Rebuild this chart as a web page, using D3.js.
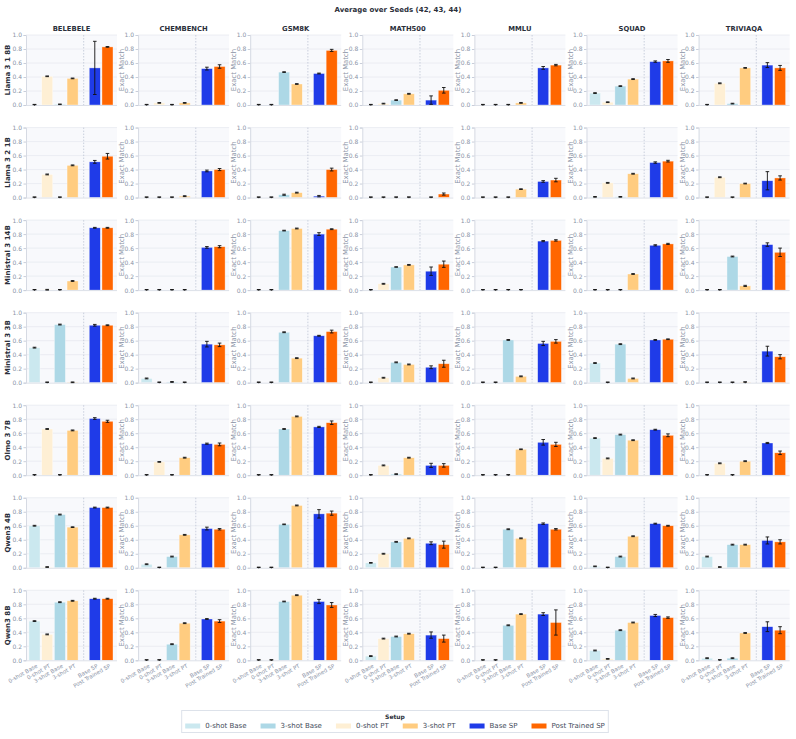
<!DOCTYPE html>
<html>
<head>
<meta charset="utf-8">
<script src="https://cdn.jsdelivr.net/npm/d3@7"></script>
<style>
  body { margin: 0; background: #fff; }
  svg { font-family: "DejaVu Sans", sans-serif; }
</style>
</head>
<body>
<svg id="chart" width="796" height="739"></svg>
<script>
// categories
var models = ['Llama 3 1 8B', 'Llama 3 2 1B', 'Ministral 3 14B', 'Ministral 3 3B', 'Olmo 3 7B', 'Qwen3 4B', 'Qwen3 8B'];
var datasets = ['BELEBELE', 'CHEMBENCH', 'GSM8K', 'MATH500', 'MMLU', 'SQUAD', 'TRIVIAQA'];
var setups = ['0-shot Base', '0-shot PT', '3-shot Base', '3-shot PT', 'Base SP', 'Post Trained SP'];
var legendOrder = ['0-shot Base', '3-shot Base', '0-shot PT', '3-shot PT', 'Base SP', 'Post Trained SP'];
var setupColors = ['#cbe8ef', '#feefd4', '#add8e6', '#ffcc80', '#1f3be8', '#ff6600'];

// mean exact match, one row per dataset, columns in setups order
var meanLlama318B = [
  [0, 0.41, 0.01, 0.38, 0.53, 0.83],
  [0, 0.03, 0, 0.03, 0.52, 0.55],
  [0, 0, 0.47, 0.30, 0.45, 0.78],
  [0, 0.02, 0.07, 0.16, 0.07, 0.21],
  [0, 0, 0, 0.03, 0.53, 0.57],
  [0.17, 0.04, 0.27, 0.37, 0.62, 0.63],
  [0, 0.31, 0.02, 0.53, 0.57, 0.53]
];
var errLlama318B = [
  [0.004, 0.005, 0.004, 0.005, 0.38, 0.005],
  [0.004, 0.005, 0.004, 0.005, 0.02, 0.025],
  [0.004, 0.004, 0.005, 0.005, 0.006, 0.015],
  [0.004, 0.005, 0.005, 0.006, 0.06, 0.04],
  [0.004, 0.004, 0.004, 0.006, 0.02, 0.01],
  [0.006, 0.005, 0.005, 0.006, 0.01, 0.02],
  [0.004, 0.006, 0.005, 0.005, 0.035, 0.035]
];
var meanLlama321B = [
  [0, 0.33, 0, 0.46, 0.51, 0.59],
  [0, 0, 0, 0.02, 0.38, 0.40],
  [0, 0, 0.04, 0.07, 0.02, 0.40],
  [0, 0, 0, 0, 0, 0.05],
  [0, 0, 0, 0.12, 0.23, 0.25],
  [0.01, 0.21, 0.01, 0.34, 0.50, 0.52],
  [0, 0.29, 0, 0.20, 0.24, 0.28]
];
var errLlama321B = [
  [0.004, 0.006, 0.004, 0.006, 0.02, 0.04],
  [0.004, 0.004, 0.004, 0.006, 0.012, 0.015],
  [0.004, 0.004, 0.008, 0.006, 0.01, 0.02],
  [0.004, 0.004, 0.005, 0.005, 0.004, 0.015],
  [0.004, 0.004, 0.004, 0.005, 0.012, 0.025],
  [0.005, 0.006, 0.005, 0.006, 0.01, 0.012],
  [0.004, 0.006, 0.004, 0.005, 0.13, 0.03]
];
var meanMinistral314B = [
  [0, 0.005, 0, 0.13, 0.89, 0.89],
  [0, 0, 0, 0, 0.61, 0.62],
  [0, 0, 0.85, 0.88, 0.80, 0.87],
  [0, 0.09, 0.33, 0.36, 0.27, 0.37],
  [0, 0, 0, 0, 0.70, 0.71],
  [0, 0, 0, 0.23, 0.64, 0.66],
  [0, 0, 0.48, 0.06, 0.65, 0.54]
];
var errMinistral314B = [
  [0.004, 0.005, 0.004, 0.006, 0.006, 0.006],
  [0.004, 0.004, 0.004, 0.004, 0.012, 0.015],
  [0.004, 0.004, 0.005, 0.006, 0.02, 0.006],
  [0.004, 0.006, 0.004, 0.006, 0.06, 0.045],
  [0.004, 0.004, 0.005, 0.005, 0.008, 0.01],
  [0.004, 0.004, 0.004, 0.006, 0.008, 0.008],
  [0.004, 0.004, 0.006, 0.008, 0.025, 0.06]
];
var meanMinistral33B = [
  [0.50, 0, 0.83, 0.005, 0.82, 0.82],
  [0.06, 0, 0.01, 0, 0.55, 0.54],
  [0, 0, 0.72, 0.35, 0.67, 0.73],
  [0, 0.07, 0.29, 0.26, 0.22, 0.27],
  [0, 0, 0.61, 0.09, 0.56, 0.59],
  [0.28, 0, 0.55, 0.06, 0.61, 0.62],
  [0, 0, 0, 0.005, 0.45, 0.37]
];
var errMinistral33B = [
  [0.006, 0.004, 0.006, 0.005, 0.012, 0.006],
  [0.006, 0.004, 0.006, 0.004, 0.04, 0.025],
  [0.004, 0.004, 0.006, 0.006, 0.006, 0.02],
  [0.004, 0.006, 0.006, 0.006, 0.02, 0.05],
  [0.004, 0.004, 0.006, 0.006, 0.03, 0.025],
  [0.006, 0.004, 0.006, 0.006, 0.006, 0.005],
  [0.004, 0.004, 0.004, 0.006, 0.07, 0.03]
];
var meanOlmo37B = [
  [0, 0.66, 0, 0.64, 0.81, 0.77],
  [0, 0.19, 0, 0.25, 0.45, 0.44],
  [0, 0, 0.66, 0.84, 0.69, 0.75],
  [0, 0.14, 0.015, 0.25, 0.14, 0.14],
  [0, 0, 0, 0.37, 0.47, 0.44],
  [0.53, 0.24, 0.58, 0.50, 0.65, 0.57],
  [0, 0.17, 0, 0.20, 0.46, 0.32]
];
var errOlmo37B = [
  [0.004, 0.006, 0.004, 0.006, 0.012, 0.015],
  [0.004, 0.005, 0.004, 0.006, 0.008, 0.02],
  [0.004, 0.004, 0.006, 0.006, 0.008, 0.025],
  [0.004, 0.006, 0.006, 0.006, 0.03, 0.025],
  [0.004, 0.004, 0.004, 0.005, 0.04, 0.03],
  [0.006, 0.006, 0.006, 0.006, 0.006, 0.02],
  [0.004, 0.006, 0.004, 0.006, 0.008, 0.025]
];
var meanQwen34B = [
  [0.60, 0.01, 0.76, 0.58, 0.86, 0.86],
  [0.05, 0, 0.16, 0.47, 0.56, 0.55],
  [0, 0, 0.62, 0.89, 0.77, 0.78],
  [0.07, 0.20, 0.37, 0.42, 0.35, 0.33],
  [0, 0, 0.55, 0.42, 0.63, 0.55],
  [0.02, 0, 0.16, 0.45, 0.63, 0.60],
  [0.16, 0.01, 0.33, 0.33, 0.39, 0.37]
];
var errQwen34B = [
  [0.006, 0.005, 0.006, 0.005, 0.006, 0.006],
  [0.006, 0.004, 0.006, 0.006, 0.02, 0.01],
  [0.004, 0.004, 0.005, 0.006, 0.06, 0.03],
  [0.005, 0.006, 0.006, 0.006, 0.02, 0.05],
  [0.004, 0.004, 0.006, 0.006, 0.01, 0.01],
  [0.005, 0.004, 0.006, 0.006, 0.006, 0.006],
  [0.006, 0.005, 0.006, 0.006, 0.05, 0.03]
];
var meanQwen38B = [
  [0.56, 0.37, 0.83, 0.85, 0.88, 0.88],
  [0, 0, 0.23, 0.53, 0.59, 0.56],
  [0, 0, 0.84, 0.93, 0.84, 0.79],
  [0.06, 0.31, 0.34, 0.38, 0.36, 0.31],
  [0, 0, 0.50, 0.66, 0.66, 0.54],
  [0.14, 0.02, 0.43, 0.54, 0.64, 0.61],
  [0.03, 0, 0.03, 0.39, 0.48, 0.43]
];
var errQwen38B = [
  [0.006, 0.006, 0.006, 0.006, 0.006, 0.006],
  [0.004, 0.005, 0.006, 0.006, 0.006, 0.02],
  [0.004, 0.004, 0.005, 0.006, 0.03, 0.035],
  [0.006, 0.006, 0.006, 0.006, 0.045, 0.05],
  [0.004, 0.004, 0.006, 0.006, 0.02, 0.18],
  [0.006, 0.005, 0.006, 0.006, 0.015, 0.01],
  [0.006, 0.005, 0.006, 0.006, 0.07, 0.05]
];
var yTicks = [0, 0.2, 0.4, 0.6, 0.8, 1.0];

var means = [meanLlama318B, meanLlama321B, meanMinistral314B, meanMinistral33B, meanOlmo37B, meanQwen34B, meanQwen38B];
var errs = [errLlama318B, errLlama321B, errMinistral314B, errMinistral33B, errOlmo37B, errQwen34B, errQwen38B];

var svg = d3.select('#chart');
var colX0 = 26, colStep = 112.1, plotW = 91;
var rowY0 = 35, rowStep = 92.55, plotH = 70;
var tickColor = '#8a93a6', darkText = '#2b2f3a';

// slot index per setup: a narrow gap sits between the few-shot and SP groups
function slot(i) { return i < 4 ? i : i + 0.75; }
var x = d3.scaleLinear().domain([-0.67, 6.5]).range([0, plotW]);
var y = d3.scaleLinear().domain([0, 1]).range([plotH, 0]);
var barW = x(0.87) - x(0);

svg.append('text')
  .attr('x', 398).attr('y', 12)
  .attr('text-anchor', 'middle')
  .style('font-size', '7px').style('font-weight', 'bold')
  .style('fill', darkText)
  .text('Average over Seeds (42, 43, 44)');

models.forEach(function(model, r) {
  datasets.forEach(function(ds, c) {
    var g = svg.append('g')
      .attr('transform', 'translate(' + (colX0 + c * colStep) + ',' + (rowY0 + r * rowStep) + ')');

    g.append('rect')
      .attr('width', plotW).attr('height', plotH)
      .style('fill', '#f8f9fc');

    g.selectAll('line.grid')
      .data(yTicks.slice(1))
      .enter().append('line')
      .attr('class', 'grid')
      .attr('x1', 0).attr('x2', plotW)
      .attr('y1', d => y(d)).attr('y2', d => y(d))
      .style('stroke', '#e7eaf0').style('stroke-width', 0.8);

    // divider between groups
    g.append('line')
      .attr('x1', x(3.875)).attr('x2', x(3.875))
      .attr('y1', 0).attr('y2', plotH)
      .style('stroke', '#c4cbd9').style('stroke-width', 0.9)
      .style('stroke-dasharray', '1.5,1.5');

    var vals = means[r][c].map(function(v, i) {
      return { i: i, v: v, e: errs[r][c][i] };
    });

    g.selectAll('rect.bar')
      .data(vals)
      .enter().append('rect')
      .attr('class', 'bar')
      .attr('x', d => x(slot(d.i)) - barW / 2)
      .attr('width', barW)
      .attr('y', d => y(d.v))
      .attr('height', d => Math.max(0, y(0) - y(d.v)))
      .style('fill', d => setupColors[d.i])
      .style('stroke', '#ffffff').style('stroke-opacity', 0.6).style('stroke-width', 0.6);

    // bottom axis line
    g.append('line')
      .attr('x1', 0).attr('x2', plotW)
      .attr('y1', plotH + 0.5).attr('y2', plotH + 0.5)
      .style('stroke', '#dce0e8').style('stroke-width', 1);

    var eb = g.selectAll('g.err')
      .data(vals)
      .enter().append('g')
      .attr('class', 'err');
    eb.append('line')
      .attr('x1', d => x(slot(d.i))).attr('x2', d => x(slot(d.i)))
      .attr('y1', d => y(d.v + d.e)).attr('y2', d => y(Math.max(0, d.v - d.e)) + (d.v - d.e < 0 ? 0.6 : 0))
      .style('stroke', '#111').style('stroke-width', 0.9);
    [1, -1].forEach(function(s) {
      eb.append('line')
        .attr('x1', d => x(slot(d.i)) - 1.8).attr('x2', d => x(slot(d.i)) + 1.8)
        .attr('y1', d => y(Math.max(0, d.v + s * d.e)) - (s < 0 && d.v - d.e < 0 ? 0.6 : 0))
        .attr('y2', d => y(Math.max(0, d.v + s * d.e)) - (s < 0 && d.v - d.e < 0 ? 0.6 : 0))
        .style('stroke', '#111').style('stroke-width', 0.9);
    });

    var yAxis = g.append('g')
      .call(d3.axisLeft(y).tickValues(yTicks).tickFormat(d3.format('.1f')).tickSize(2.5).tickPadding(1.5));
    yAxis.select('.domain').style('stroke', '#d6dae3');
    yAxis.selectAll('.tick line').style('stroke', '#c9ceda');
    yAxis.selectAll('text').style('fill', tickColor).style('font-size', '6px')
      .style('font-family', '"DejaVu Sans", sans-serif');

    if (r === 0) {
      g.append('text')
        .attr('x', plotW / 2).attr('y', -4)
        .attr('text-anchor', 'middle')
        .style('font-size', '6.8px').style('font-weight', 'bold')
        .style('fill', darkText)
        .text(ds);
    }

    if (c === 0) {
      g.append('text')
        .attr('transform', 'translate(' + (-16.5) + ',' + (plotH / 2) + ') rotate(-90)')
        .attr('text-anchor', 'middle')
        .style('font-size', '7px').style('font-weight', 'bold')
        .style('fill', darkText)
        .text(model);
    } else {
      g.append('text')
        .attr('transform', 'translate(' + (-14) + ',' + (plotH / 2) + ') rotate(-90)')
        .attr('text-anchor', 'middle')
        .style('font-size', '6.9px')
        .style('fill', tickColor)
        .text('Exact Match');
    }

    if (r === models.length - 1) {
      g.selectAll('text.xt')
        .data(setups)
        .enter().append('text')
        .attr('class', 'xt')
        .attr('transform', (d, i) => 'translate(' + (x(slot(i)) + 2.5) + ',' + (plotH + 5) + ') rotate(-30)')
        .attr('text-anchor', 'end')
        .attr('dy', '0.35em')
        .style('font-size', '5.5px')
        .style('fill', tickColor)
        .text(d => d);
    }
  });
});

// legend
var legend = svg.append('g');
var lgBox = legend.append('rect')
  .style('fill', '#fff').style('stroke', '#dde2ea').style('stroke-width', 1);
legend.append('text')
  .attr('x', 395).attr('y', 718.5)
  .attr('text-anchor', 'middle')
  .style('font-size', '6px').style('font-weight', 'bold')
  .style('fill', darkText)
  .text('Setup');
var items = legend.append('g');
var cursor = 0;
legendOrder.forEach(function(name) {
  var it = items.append('g').attr('transform', 'translate(' + cursor + ',0)');
  it.append('rect')
    .attr('x', 0).attr('y', -2.5).attr('width', 15).attr('height', 5)
    .style('fill', setupColors[setups.indexOf(name)]);
  var t = it.append('text')
    .attr('x', 20).attr('y', 0).attr('dy', '0.35em')
    .style('font-size', '7px').style('fill', '#444b5a')
    .text(name);
  cursor += 20 + t.node().getComputedTextLength() + 14;
});
var itemsW = cursor - 14;
var startX = 395 - itemsW / 2;
items.attr('transform', 'translate(' + startX + ',726)');
lgBox.attr('x', startX - 3.5).attr('y', 710.5).attr('width', itemsW + 7).attr('height', 22);
</script>
</body>
</html>
